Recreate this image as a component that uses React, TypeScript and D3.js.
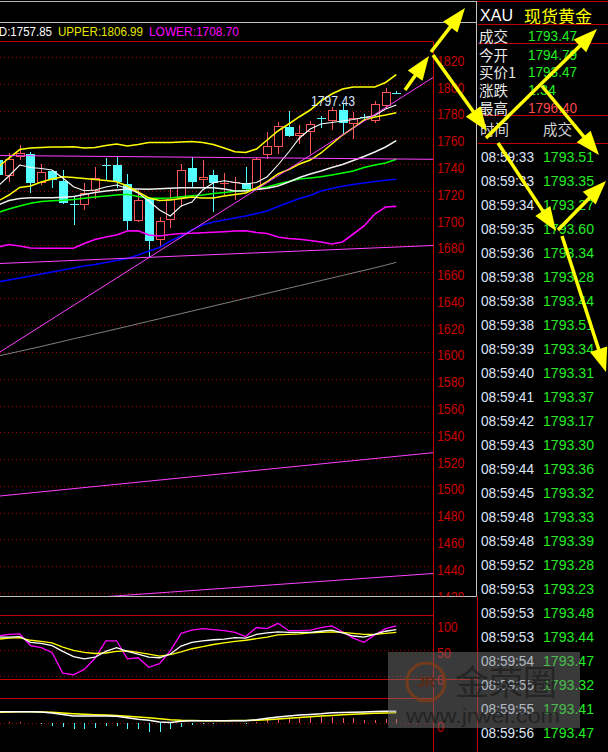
import React from "react";
import * as d3 from "d3";

const W = 608;
const H = 752;
const AXIS_X = 433.5;
const FRAME_X = 476.5;

const SANS = "'Liberation Sans', Arial, sans-serif";
const CJK = "'Noto Sans CJK SC', 'Noto Sans', sans-serif";

// ---- daily bars, oldest to newest ----
const opens = [1743.32, 1732.12, 1746.4, 1747.8, 1726.9, 1735.11, 1727.65, 1710.7, 1710.47, 1720.92, 1739.8, 1739.59, 1725.4, 1698.52, 1714.95, 1684.33, 1699.26, 1715.7, 1737.35, 1729.14, 1732.12, 1725.9, 1726.6, 1726.15, 1721.67, 1747.8, 1753.77, 1767.96, 1761.98, 1764.97, 1774.9, 1773.18, 1780.65, 1770.94, 1775.6, 1773.18, 1784.38, 1793.6];
const highs = [1744.5, 1748.55, 1754.5, 1749.3, 1740.33, 1735.9, 1735.86, 1716.44, 1726.15, 1738.1, 1744.81, 1745.56, 1732.87, 1720.92, 1715.4, 1700.76, 1722.42, 1740.33, 1745.56, 1743.32, 1735.86, 1733.62, 1730.63, 1738.1, 1745.56, 1764.22, 1771.69, 1779.9, 1769.45, 1772.44, 1776.17, 1782.89, 1785.88, 1779.16, 1777.67, 1787.37, 1797.43, 1794.6];
const lows = [1731.0, 1726.9, 1743.32, 1718.68, 1724.66, 1722.42, 1710.47, 1694.78, 1705.98, 1714.2, 1728.39, 1722.42, 1691.05, 1697.02, 1670.89, 1678.36, 1692.54, 1708.22, 1723.16, 1722.42, 1704.49, 1717.19, 1713.46, 1721.2, 1721.2, 1744.07, 1747.8, 1760.49, 1755.27, 1747.8, 1767.21, 1765.72, 1761.98, 1759.0, 1773.93, 1770.94, 1782.14, 1792.9];
const closes = [1732.12, 1744.07, 1748.2, 1726.15, 1734.36, 1728.39, 1711.22, 1710.3, 1718.68, 1729.88, 1739.4, 1726.9, 1697.77, 1713.46, 1682.84, 1697.77, 1714.2, 1735.86, 1726.9, 1730.63, 1726.15, 1726.4, 1727.2, 1721.67, 1744.07, 1753.77, 1768.7, 1761.24, 1763.48, 1770.2, 1774.5, 1780.65, 1770.94, 1774.68, 1775.2, 1785.13, 1794.09, 1793.47];

// ---- moving averages ----
const ma5 = [1723.9, 1731.37, 1739.58, 1737.71, 1736.97, 1735.85, 1729.87, 1723.38, 1720.39, 1720.91, 1723.15, 1724.65, 1722.18, 1718.67, 1712.7, 1705.98, 1701.5, 1708.97, 1711.95, 1720.91, 1726.36, 1727.86, 1726.51, 1725.39, 1726.51, 1730.84, 1739.58, 1749.29, 1759.74, 1766.46, 1770.19, 1771.31, 1772.43, 1773.55, 1775.05, 1776.54, 1781.39, 1784.38];
const ma10 = [1712.7, 1717.18, 1722.78, 1723.9, 1726.89, 1729.13, 1730.84, 1730.25, 1729.5, 1728.75, 1728.01, 1727.11, 1723.9, 1719.42, 1714.94, 1713.07, 1713.45, 1714.57, 1715.69, 1714.94, 1714.94, 1716.43, 1717.55, 1718.67, 1722.41, 1727.11, 1732.86, 1736.22, 1740.33, 1743.31, 1748.54, 1755.26, 1761.98, 1767.21, 1773.18, 1775.42, 1776.91, 1778.63];
const ma20 = [1704.11, 1706.73, 1708.97, 1710.98, 1712.33, 1712.92, 1713.22, 1713.82, 1714.71, 1715.69, 1716.43, 1717.18, 1717.7, 1716.06, 1714.71, 1714.79, 1714.94, 1715.84, 1716.66, 1717.18, 1718.3, 1719.05, 1719.94, 1720.69, 1721.66, 1723.15, 1725.39, 1727.26, 1729.13, 1729.87, 1730.77, 1732.12, 1733.62, 1735.1, 1737.71, 1739.58, 1741.07, 1743.84];
const ma60 = [1652.22, 1653.71, 1655.21, 1656.7, 1658.19, 1659.69, 1661.18, 1662.67, 1664.17, 1665.29, 1666.78, 1668.27, 1669.77, 1672.38, 1675.37, 1677.98, 1682.83, 1686.57, 1691.05, 1694.78, 1697.02, 1698.51, 1700.01, 1701.5, 1703.37, 1705.23, 1708.59, 1711.58, 1714.57, 1716.81, 1720.17, 1722.03, 1723.68, 1725.02, 1726.15, 1727.26, 1728.16, 1728.9];
const ma250 = [1597.0, 1598.7, 1600.5, 1602.3, 1604.1, 1606.0, 1607.9, 1609.8, 1611.6, 1613.5, 1615.3, 1617.2, 1619.1, 1621.0, 1622.9, 1624.8, 1626.7, 1628.6, 1630.5, 1632.4, 1634.3, 1636.2, 1638.1, 1640.0, 1641.9, 1643.8, 1645.7, 1647.6, 1649.5, 1651.4, 1653.3, 1655.2, 1657.1, 1659.0, 1660.9, 1662.8, 1664.8, 1666.9];

// ---- Bollinger bands ----
const bollUpper = [1738.09, 1744.81, 1751.15, 1752.27, 1752.65, 1753.02, 1753.02, 1753.24, 1752.27, 1752.65, 1754.14, 1755.26, 1753.77, 1754.89, 1756.38, 1756.38, 1756.38, 1756.75, 1757.13, 1756.38, 1754.89, 1752.27, 1749.51, 1748.91, 1751.53, 1758.25, 1764.97, 1770.19, 1775.64, 1780.65, 1787.37, 1792.59, 1796.33, 1797.82, 1797.82, 1797.82, 1801.18, 1806.99];
const bollMid = [1709.71, 1713.07, 1714.57, 1715.17, 1715.17, 1715.17, 1715.46, 1716.06, 1717.55, 1719.05, 1720.17, 1720.91, 1721.66, 1721.66, 1721.44, 1721.88, 1722.18, 1722.56, 1722.63, 1722.63, 1722.63, 1721.66, 1720.17, 1720.17, 1721.29, 1722.18, 1723.9, 1726.89, 1730.25, 1732.86, 1735.1, 1737.71, 1739.95, 1742.94, 1745.93, 1749.29, 1753.02, 1757.85];
const bollLower = [1678.35, 1680.22, 1679.1, 1677.61, 1677.38, 1677.38, 1677.38, 1677.38, 1680.97, 1683.95, 1685.82, 1687.31, 1690.3, 1690.52, 1687.31, 1686.57, 1687.69, 1688.43, 1688.58, 1688.96, 1689.33, 1689.78, 1690.3, 1690.52, 1689.18, 1688.43, 1685.82, 1684.7, 1684.1, 1683.21, 1682.09, 1680.59, 1682.09, 1688.06, 1694.03, 1702.99, 1708.22, 1708.7];

// ---- KDJ ----
const kdjK = [74, 74, 75, 64, 62, 58, 47, 37, 33, 36, 47, 54, 47, 42, 36, 35, 42, 57, 64, 67, 69, 70, 73, 72, 79, 82, 84, 83, 83, 83, 85, 87, 82, 76, 74, 79, 85, 88];
const kdjD = [70, 72, 73, 68, 66, 63, 55, 49, 45, 43, 44, 47, 48, 45, 42, 38, 41, 46, 52, 56, 60, 63, 66, 68, 71, 74, 78, 79, 80, 82, 83, 84, 83, 81, 79, 79, 81, 83];
const kdjJ = [76, 79, 80, 58, 54, 45, 6, 3, 13, 34, 67, 67, 33, 35, 17, 24, 48, 81, 87, 90, 88, 86, 83, 75, 92, 90, 100, 86, 86, 87, 92, 95, 84, 72, 64, 78, 90, 95];

// ---- MACD ----
const macdDif = [11.6, 11.6, 11.6, 11.6, 11.3, 10.3, 8.8, 7.3, 7.3, 7.3, 7.3, 7.0, 5.6, 4.0, 3.0, 1.4, 0.8, 2.0, 2.6, 2.6, 2.6, 2.6, 2.6, 2.6, 3.6, 5.0, 6.2, 7.4, 8.2, 8.8, 9.5, 10.5, 10.8, 11.0, 11.4, 11.8, 12.0, 12.0];
const macdDea = [11.0, 11.3, 11.5, 11.6, 11.3, 11.0, 10.3, 9.6, 9.0, 8.5, 8.2, 7.8, 7.0, 6.4, 5.6, 4.6, 3.6, 3.0, 2.7, 2.6, 2.6, 2.6, 2.7, 2.8, 3.0, 3.5, 4.2, 5.0, 5.8, 6.5, 7.2, 7.9, 8.5, 9.0, 9.5, 10.0, 10.3, 10.6];
const macdHist = [0, 1.3, 1.0, 0, -0.7, -2.4, -3.7, -5.4, -5.4, -4.4, -2.7, -2.7, -5.4, -5.4, -8.4, -8.4, -6.0, -3.4, -1.7, -1.0, -1.0, 0, 0, -0.7, 1.6, 3.3, 5.6, 5.0, 5.6, 6.6, 6.6, 6.0, 5.0, 5.0, 3.3, 3.3, 4.0, 4.0];

// ---- axis ticks ----
const priceTicks = [1820, 1800, 1780, 1760, 1740, 1720, 1700, 1680, 1660, 1640, 1620, 1600, 1580, 1560, 1540, 1520, 1500, 1480, 1460, 1440, 1420];
const kdjTicks = [100, 50, 0];
const macdTicks = [0];

// user-drawn trend lines: [bar index, price] anchor pairs, extended to the axis
const trendLines = [
  [[0, 1599.1], [40, 1802.82]],
  [[0, 1746.69], [40, 1743.85]],
  [[0, 1665.98], [40, 1679.34]],
  [[0, 1492.3], [40, 1524.43]],
  [[0, 1411.6], [40, 1434.33]],
];

// ---- quote panel ----
const quoteLabels = ["成交", "今开", "买价1", "涨跌", "最高"];
const quoteValues = ["1793.47", "1794.79", "1793.47", "1.34", "1796.40"];
const quoteRowY = [35.5, 54.5, 71.5, 89.5, 107.5];

const tradeTimes = ["08:59:33", "08:59:33", "08:59:34", "08:59:35", "08:59:36", "08:59:38", "08:59:38", "08:59:38", "08:59:39", "08:59:40", "08:59:41", "08:59:42", "08:59:43", "08:59:44", "08:59:45", "08:59:48", "08:59:48", "08:59:52", "08:59:53", "08:59:53", "08:59:53", "08:59:54", "08:59:55", "08:59:55", "08:59:56"];
const tradePrices = [1793.51, 1793.35, 1793.27, 1793.6, 1793.34, 1793.28, 1793.44, 1793.51, 1793.34, 1793.31, 1793.37, 1793.17, 1793.3, 1793.36, 1793.32, 1793.33, 1793.39, 1793.28, 1793.23, 1793.48, 1793.44, 1793.47, 1793.32, 1793.41, 1793.47];

// yellow pointer arrows: [x1, y1, x2 (tip), y2 (tip)]
const pointerArrows = [
  [405, 90, 429, 56],
  [431, 52, 465, 8],
  [433, 55, 487, 131],
  [486, 138, 597, 29],
  [542, 86, 599, 155],
  [498, 143, 556, 231],
  [558, 230, 606, 181],
  [562, 236, 606, 372],
];

const RED = "#ff5454";
const CYAN = "#54ffff";
const GRID = "#a00000";
const FRAME_RED = "#c00000";
const AXIS_TEXT = "#c80000";

function Arrow({ a }: { a: number[] }) {
  const [x1, y1, x2, y2] = a;
  const dx = x2 - x1, dy = y2 - y1;
  const len = Math.hypot(dx, dy);
  const ux = dx / len, uy = dy / len;
  const nx = -uy, ny = ux;
  const headLen = 24, half = 9;
  const bx = x2 - ux * headLen, by = y2 - uy * headLen;
  const pts = [
    [x2, y2],
    [bx + nx * half, by + ny * half],
    [bx - nx * half, by - ny * half],
  ].map((p) => p.join(",")).join(" ");
  return (
    <g>
      <line x1={x1} y1={y1} x2={bx + ux * 2} y2={by + uy * 2} stroke="#ffff00" strokeWidth={3.5} />
      <polygon points={pts} fill="#ffff00" />
    </g>
  );
}

export default function App() {
  const n = opens.length;
  const xBar = d3.scaleLinear().domain([0, n - 1]).range([-1.8, 396.3]);
  const yPrice = d3.scaleLinear().domain([1420, 1820]).range([593, 57.3]);
  const yKdj = d3.scaleLinear().domain([0, 100]).range([676.3, 623.3]);
  const yMacd = d3.scaleLinear().domain([0, 10]).range([723.3, 713.3]);

  const priceLine = d3.line<number>().x((_, i) => xBar(i)).y((d) => yPrice(d));
  const kdjLine = d3.line<number>().x((_, i) => xBar(i)).y((d) => yKdj(d));
  const macdLine = d3.line<number>().x((_, i) => xBar(i)).y((d) => yMacd(d));

  const px = (v: number) => Math.round(v) + 0.5;

  const overlay = [
    { d: ma250, c: "#808080", w: 1 },
    { d: ma60, c: "#0000ff", w: 1.6 },
    { d: bollLower, c: "#ff00ff", w: 1.6 },
    { d: ma20, c: "#00ff00", w: 1.6 },
    { d: bollMid, c: "#f0f0f0", w: 1.5 },
    { d: bollUpper, c: "#ffff00", w: 1.6 },
    { d: ma10, c: "#ffff00", w: 1.5 },
    { d: ma5, c: "#ffffff", w: 1.1 },
  ];

  const extended = trendLines.map(([[i0, p0], [i1, p1]]) => {
    const xa = xBar(i0), ya = yPrice(p0), xb = xBar(i1), yb = yPrice(p1);
    const s = (yb - ya) / (xb - xa);
    return { x1: 0, y1: ya + s * (0 - xa), x2: AXIS_X, y2: ya + s * (AXIS_X - xa) };
  });

  const hiIdx = d3.maxIndex(highs);

  return (
    <svg width={W} height={H} style={{ position: "fixed", left: 0, top: 0, display: "block" }}>
      <defs>
        <clipPath id="clipMain"><rect x={0} y={42} width={AXIS_X} height={554} /></clipPath>
        <clipPath id="clipMainAxis"><rect x={AXIS_X} y={42} width={43} height={554.5} /></clipPath>
        <clipPath id="clipKdj"><rect x={0} y={616} width={AXIS_X} height={63} /></clipPath>
        <clipPath id="clipMacd"><rect x={0} y={699} width={AXIS_X} height={53} /></clipPath>
      </defs>
      <rect x={0} y={0} width={W} height={H} fill="#000" />

      {/* frame lines */}
      <line x1={0} x2={FRAME_X} y1={1.5} y2={1.5} stroke="#b4b4b4" />
      <line x1={FRAME_X} x2={W} y1={1.5} y2={1.5} stroke={FRAME_RED} />
      <line x1={0} x2={FRAME_X} y1={22.5} y2={22.5} stroke="#c0c0c0" />
      <line x1={0} x2={AXIS_X} y1={41.5} y2={41.5} stroke={FRAME_RED} />
      <line x1={AXIS_X} x2={AXIS_X} y1={41.5} y2={H} stroke={FRAME_RED} />
      <line x1={FRAME_X} x2={FRAME_X} y1={1} y2={596.5} stroke="#c0c0c0" />
      <line x1={0} x2={FRAME_X} y1={596.5} y2={596.5} stroke="#c0c0c0" />
      <line x1={477.5} x2={477.5} y1={596.5} y2={H} stroke={FRAME_RED} />

      {/* header */}
      <text x={52} y={31.5} textAnchor="end" dominantBaseline="central" fill="#ffffff" fontFamily={SANS} fontSize={13} textLength={66} lengthAdjust="spacingAndGlyphs">MID:1757.85</text>
      <text x={58} y={31.5} dominantBaseline="central" fill="#e6e600" fontFamily={SANS} fontSize={13} textLength={85} lengthAdjust="spacingAndGlyphs">UPPER:1806.99</text>
      <text x={149} y={31.5} dominantBaseline="central" fill="#ff00ff" fontFamily={SANS} fontSize={13} textLength={90} lengthAdjust="spacingAndGlyphs">LOWER:1708.70</text>

      {/* price grid + labels */}
      {priceTicks.map((t) => (
        <line key={"g" + t} x1={0} x2={AXIS_X - 1} y1={px(yPrice(t))} y2={px(yPrice(t))} stroke={GRID} strokeDasharray="1 3" />
      ))}
      <g clipPath="url(#clipMainAxis)">
        {priceTicks.map((t) => (
          <text key={"l" + t} x={437} y={yPrice(t) + 3} dominantBaseline="central" fill={AXIS_TEXT} fontFamily={SANS} fontSize={15} textLength={27.5} lengthAdjust="spacingAndGlyphs">{t}</text>
        ))}
      </g>

      {/* candles */}
      <g clipPath="url(#clipMain)" shapeRendering="crispEdges">
        {opens.map((o, i) => {
          const c = closes[i];
          const xc = px(xBar(i));
          const up = c >= o;
          const col = up ? RED : CYAN;
          const yT = yPrice(Math.max(o, c));
          const yB = yPrice(Math.min(o, c));
          const yH = yPrice(highs[i]);
          const yL = yPrice(lows[i]);
          if (yB - yT < 1.5) {
            return (
              <g key={i}>
                <line x1={xc} x2={xc} y1={yH} y2={yL} stroke={col} />
                <line x1={xc - 4.5} x2={xc + 4.5} y1={px(yT)} y2={px(yT)} stroke={col} />
              </g>
            );
          }
          if (up) {
            return (
              <g key={i}>
                <line x1={xc} x2={xc} y1={yH} y2={Math.round(yT)} stroke={col} />
                <line x1={xc} x2={xc} y1={Math.round(yB)} y2={yL} stroke={col} />
                <rect x={xc - 4} y={px(yT)} width={8} height={Math.round(yB) - Math.round(yT)} fill="#000" stroke={col} />
              </g>
            );
          }
          return (
            <g key={i}>
              <line x1={xc} x2={xc} y1={yH} y2={yL} stroke={col} />
              <rect x={xc - 4.5} y={Math.round(yT)} width={9} height={Math.max(1, Math.round(yB) - Math.round(yT))} fill={col} />
            </g>
          );
        })}
      </g>

      {/* moving averages, bands, trend lines */}
      <g clipPath="url(#clipMain)">
        {overlay.map((o, k) => (
          <path key={k} d={priceLine(o.d) || ""} fill="none" stroke={o.c} strokeWidth={o.w} />
        ))}
        {extended.map((l, k) => (
          <line key={k} x1={l.x1} y1={l.y1} x2={l.x2} y2={l.y2} stroke="#ff40ff" strokeWidth={1} />
        ))}
      </g>

      {/* highest price marker */}
      <text x={355} y={yPrice(highs[hiIdx]) + 13} textAnchor="end" dominantBaseline="central" fill="#d4e4ff" fontFamily={SANS} fontSize={14} textLength={44} lengthAdjust="spacingAndGlyphs">{highs[hiIdx].toFixed(2)}</text>

      {/* KDJ panel */}
      <line x1={0} x2={AXIS_X} y1={615.5} y2={615.5} stroke={FRAME_RED} />
      <line x1={0} x2={FRAME_X} y1={679.5} y2={679.5} stroke={FRAME_RED} />
      {kdjTicks.map((t) => (
        <line key={"kg" + t} x1={0} x2={AXIS_X - 1} y1={px(yKdj(t))} y2={px(yKdj(t))} stroke={GRID} strokeDasharray="1 3" />
      ))}
      {kdjTicks.map((t) => (
        <text key={"kl" + t} x={437} y={yKdj(t) + 3} dominantBaseline="central" fill={AXIS_TEXT} fontFamily={SANS} fontSize={15} textLength={String(t).length * 6.9} lengthAdjust="spacingAndGlyphs">{t}</text>
      ))}
      <g clipPath="url(#clipKdj)">
        <path d={kdjLine(kdjJ) || ""} fill="none" stroke="#ff00ff" strokeWidth={1.3} />
        <path d={kdjLine(kdjD) || ""} fill="none" stroke="#ffff00" strokeWidth={1.3} />
        <path d={kdjLine(kdjK) || ""} fill="none" stroke="#ffffff" strokeWidth={1.3} />
      </g>

      {/* MACD panel */}
      <line x1={0} x2={AXIS_X} y1={698.5} y2={698.5} stroke={FRAME_RED} />
      {macdTicks.map((t) => (
        <line key={"mg" + t} x1={0} x2={AXIS_X - 1} y1={px(yMacd(t))} y2={px(yMacd(t))} stroke={GRID} strokeDasharray="1 3" />
      ))}
      {macdTicks.map((t) => (
        <text key={"ml" + t} x={437} y={yMacd(t) + 3.5} dominantBaseline="central" fill={AXIS_TEXT} fontFamily={SANS} fontSize={15} textLength={7} lengthAdjust="spacingAndGlyphs">{t}</text>
      ))}
      <g clipPath="url(#clipMacd)">
        <g shapeRendering="crispEdges">
          {macdHist.map((v, i) => (
            v === 0 ? null : (
              <line key={i} x1={px(xBar(i))} x2={px(xBar(i))} y1={yMacd(0)} y2={yMacd(v)} stroke={v > 0 ? RED : CYAN} />
            )
          ))}
        </g>
        <path d={macdLine(macdDea) || ""} fill="none" stroke="#ffff00" strokeWidth={1.5} />
        <path d={macdLine(macdDif) || ""} fill="none" stroke="#ffffff" strokeWidth={1.5} />
      </g>

      {/* quote panel */}
      <text x={480} y={15} dominantBaseline="central" fill="#ffffff" fontFamily={SANS} fontSize={17} textLength={33} lengthAdjust="spacingAndGlyphs">XAU</text>
      <text x={524} y={15} dominantBaseline="central" fill="#ffff00" fontFamily={CJK} fontSize={17}>现货黄金</text>
      {[24.5, 43.5, 115.5, 143.5].map((y) => (
        <line key={"r" + y} x1={478} x2={W} y1={y} y2={y} stroke={FRAME_RED} />
      ))}
      {quoteLabels.map((lab, k) => (
        <text key={"q" + k} x={479} y={quoteRowY[k]} dominantBaseline="central" fill="#e8e8e8" fontFamily={CJK} fontSize={14.5}>{lab}</text>
      ))}
      {quoteValues.map((v, k) => (
        <text key={"qv" + k} x={528} y={quoteRowY[k]} dominantBaseline="central" fill={k === 4 ? "#ff4848" : "#22ee22"} fontFamily={SANS} fontSize={15} textLength={v.length * 7} lengthAdjust="spacingAndGlyphs">{v}</text>
      ))}
      <text x={480} y={128} dominantBaseline="central" fill="#d0d0d0" fontFamily={CJK} fontSize={14.5}>时间</text>
      <text x={543} y={128} dominantBaseline="central" fill="#d0d0d0" fontFamily={CJK} fontSize={14.5}>成交</text>
      {tradeTimes.map((t, k) => (
        <g key={"t" + k}>
          <text x={481} y={156 + 24 * k} dominantBaseline="central" fill="#dce6f8" fontFamily={SANS} fontSize={15} textLength={53} lengthAdjust="spacingAndGlyphs">{t}</text>
          <text x={543} y={156 + 24 * k} dominantBaseline="central" fill="#22ee22" fontFamily={SANS} fontSize={15} textLength={51} lengthAdjust="spacingAndGlyphs">{tradePrices[k].toFixed(2)}</text>
        </g>
      ))}

      {/* site watermark */}
      <g>
        <rect x={388} y={652} width={192} height={76} fill="#808080" opacity={0.45} />
        <circle cx={426} cy={682} r={19} fill="none" stroke="#7a3c1c" strokeWidth={3} opacity={0.9} />
        <text x={426} y={682} textAnchor="middle" dominantBaseline="central" fill="#5a2a14" fontFamily={SANS} fontWeight="bold" fontSize={14}>JR</text>
        <text x={455} y={680} dominantBaseline="central" fill="#1e1e1e" opacity={0.75} fontFamily={CJK} fontSize={34}>金荣圈</text>
        <text x={406} y={715} dominantBaseline="central" fill="#1e1e1e" opacity={0.8} fontFamily={SANS} fontSize={21} textLength={154} lengthAdjust="spacingAndGlyphs">www.jrwei.com</text>
      </g>

      {/* pointer arrows */}
      {pointerArrows.map((a, k) => <Arrow key={k} a={a} />)}
    </svg>
  );
}
